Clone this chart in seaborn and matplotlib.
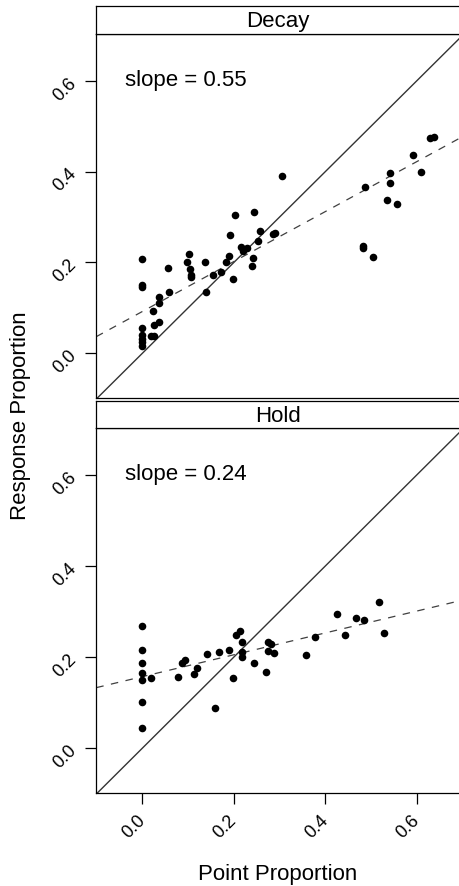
import matplotlib
matplotlib.use("Agg")
import matplotlib.pyplot as plt
import seaborn as sns
import numpy as np
import pandas as pd

# ---- data ----
panels = ["Decay", "Hold"]

decay_x = [0.0, 0.0, 0.0, 0.0, 0.0, 0.0, 0.0, 0.0,
           0.018, 0.026, 0.024, 0.026, 0.037, 0.037, 0.037, 0.055, 0.058,
           0.101, 0.097, 0.104, 0.106, 0.106,
           0.136, 0.139, 0.154, 0.171, 0.183, 0.190, 0.192, 0.203, 0.199,
           0.215, 0.221, 0.228, 0.243, 0.241, 0.239, 0.252, 0.257, 0.285, 0.290, 0.306,
           0.482, 0.482, 0.504, 0.487, 0.541, 0.541, 0.534, 0.557, 0.591, 0.608, 0.629, 0.638]
decay_y = [0.207, 0.150, 0.146, 0.055, 0.040, 0.032, 0.024, 0.017,
           0.037, 0.038, 0.094, 0.063, 0.068, 0.123, 0.110, 0.188, 0.134,
           0.218, 0.200, 0.185, 0.173, 0.167,
           0.202, 0.136, 0.173, 0.178, 0.200, 0.214, 0.260, 0.304, 0.164,
           0.233, 0.226, 0.231, 0.312, 0.209, 0.193, 0.248, 0.269, 0.263, 0.264, 0.391,
           0.236, 0.231, 0.211, 0.367, 0.396, 0.375, 0.337, 0.328, 0.437, 0.398, 0.474, 0.476]

hold_x = [0.0, 0.0, 0.0, 0.0, 0.0, 0.0, 0.0,
          0.018, 0.079, 0.086, 0.093, 0.112, 0.119, 0.141, 0.159, 0.168, 0.189, 0.198,
          0.205, 0.214, 0.217, 0.217, 0.217, 0.243, 0.270, 0.275, 0.281, 0.275, 0.288,
          0.358, 0.377, 0.425, 0.443, 0.466, 0.485, 0.518, 0.529]
hold_y = [0.269, 0.215, 0.188, 0.166, 0.150, 0.102, 0.045,
          0.153, 0.157, 0.187, 0.193, 0.163, 0.176, 0.207, 0.089, 0.210, 0.216, 0.154,
          0.249, 0.258, 0.232, 0.212, 0.201, 0.188, 0.167, 0.232, 0.229, 0.214, 0.209,
          0.204, 0.245, 0.295, 0.249, 0.285, 0.282, 0.321, 0.253]

fit_slopes = [0.55, 0.24]
fit_intercepts = [0.092, 0.157]
slope_labels = ["slope = 0.55", "slope = 0.24"]

tick_values = [0.0, 0.2, 0.4, 0.6]
tick_labels = ["0.0", "0.2", "0.4", "0.6"]

x_label = "Point Proportion"
y_label = "Response Proportion"

# ---- style ----
sns.set_theme(style="white")
plt.rcParams["font.family"] = ["Liberation Sans", "DejaVu Sans"]
plt.rcParams["axes.edgecolor"] = "black"

W, H = 460, 886
fig = plt.figure(figsize=(W / 100, H / 100), dpi=100)


def fr(x0, y0, x1, y1):
    return [x0 / W, 1 - y1 / H, (x1 - x0) / W, (y1 - y0) / H]


L, R = 96.3, 459.5
ax_top = fig.add_axes(fr(L, 34.3, R, 398.3))
strip_top = fig.add_axes(fr(L, 6, R, 34.3))
ax_bot = fig.add_axes(fr(L, 428.3, R, 793.3))
strip_bot = fig.add_axes(fr(L, 401, R, 428.3))

xs = [decay_x, hold_x]
ys = [decay_y, hold_y]
label_fs = 16
tick_fs = 13

for i, (ax, strip) in enumerate([(ax_top, strip_top), (ax_bot, strip_bot)]):
    df = pd.DataFrame({"x": xs[i], "y": ys[i]})
    ax.axline((0, 0), slope=1, color="#333333", lw=1.0, zorder=1)
    ax.axline((0, fit_intercepts[i]), slope=fit_slopes[i], color="#404040",
              lw=0.9, ls=(0, (6, 6)), zorder=1)
    sns.scatterplot(data=df, x="x", y="y", ax=ax, color="black", s=30,
                    linewidth=0, zorder=3, legend=False)
    ax.set_xlim(-0.1006, 0.693)
    ax.set_ylim(-0.099, 0.702)
    ax.set_xlabel("")
    ax.set_ylabel("")
    ax.text(-0.038, 0.588, slope_labels[i], fontsize=label_fs, ha="left",
            va="baseline", color="black")
    for sp in ax.spines.values():
        sp.set_color("black")
        sp.set_linewidth(0.9)
    ax.set_yticks(tick_values)
    ax.set_yticklabels(tick_labels)
    ax.tick_params(axis="y", which="both", direction="out", length=8, width=0.9,
                   left=True, right=False, pad=8, labelsize=tick_fs,
                   color="black", labelcolor="black")
    for lab in ax.get_yticklabels():
        lab.set_rotation(45)
        lab.set_rotation_mode("anchor")
        lab.set_ha("right")
        lab.set_va("center")
    if i == 1:
        ax.set_xticks(tick_values)
        ax.set_xticklabels(tick_labels)
        ax.tick_params(axis="x", which="both", direction="out", length=8, width=0.9,
                       bottom=True, top=False, pad=10, labelsize=tick_fs,
                       color="black", labelcolor="black")
        for lab in ax.get_xticklabels():
            lab.set_rotation(45)
            lab.set_rotation_mode("anchor")
            lab.set_ha("right")
            lab.set_va("center")
    else:
        ax.set_xticks([])

    strip.set_xticks([])
    strip.set_yticks([])
    strip.set_facecolor("white")
    for sp in strip.spines.values():
        sp.set_color("black")
        sp.set_linewidth(0.9)
    strip.text(0.5, 0.45, panels[i], transform=strip.transAxes, ha="center",
               va="center", fontsize=label_fs, color="black")

fig.text(277.5 / W, 1 - 880 / H, x_label, ha="center", va="baseline",
         fontsize=label_fs, color="black")
fig.text(20.4 / W, 1 - 416 / H, y_label, ha="center", va="center",
         rotation=90, fontsize=label_fs, color="black")

fig.savefig("out.png", dpi=100)
